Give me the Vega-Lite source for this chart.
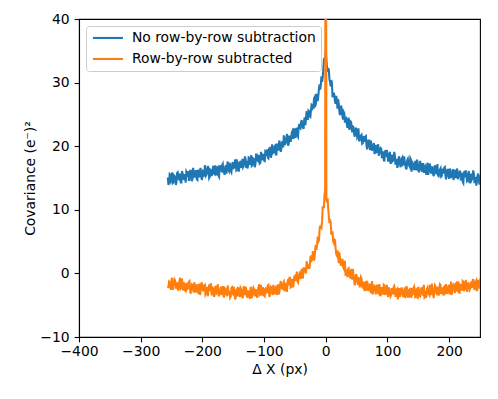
{
"$schema":"https://vega.github.io/schema/vega-lite/v6.json",
"autosize":"none","width":401,"height":318,
"padding":{"left":79,"top":19,"right":18,"bottom":62},
"background":"white",
"data":{"values":[
{"x":-256,"a":15.1,"b":-2.0},{"x":-254,"a":14.3,"b":-1.3},{"x":-252,"a":15.5,"b":-1.9},{"x":-250,"a":14.7,"b":-1.0},{"x":-248,"a":14.2,"b":-2.6},{"x":-246,"a":15.4,"b":-1.6},{"x":-244,"a":15.1,"b":-1.2},{"x":-242,"a":14.4,"b":-2.0},{"x":-240,"a":15.9,"b":-2.4},{"x":-238,"a":14.8,"b":-1.5},
{"x":-236,"a":15.3,"b":-0.7},{"x":-234,"a":14.3,"b":-2.3},{"x":-232,"a":15.7,"b":-2.0},{"x":-230,"a":15.2,"b":-1.4},{"x":-228,"a":14.8,"b":-2.7},{"x":-226,"a":16.0,"b":-1.9},{"x":-224,"a":15.2,"b":-2.4},{"x":-222,"a":14.7,"b":-1.3},{"x":-220,"a":15.8,"b":-2.6},{"x":-218,"a":16.3,"b":-2.1},
{"x":-216,"a":14.9,"b":-1.8},{"x":-214,"a":15.7,"b":-3.0},{"x":-212,"a":15.2,"b":-1.9},{"x":-210,"a":16.1,"b":-2.4},{"x":-208,"a":14.7,"b":-1.7},{"x":-206,"a":15.7,"b":-2.7},{"x":-204,"a":16.1,"b":-3.4},{"x":-202,"a":15.5,"b":-1.9},{"x":-200,"a":15.1,"b":-2.2},{"x":-198,"a":16.0,"b":-2.7},
{"x":-196,"a":17.0,"b":-1.8},{"x":-194,"a":15.4,"b":-3.1},{"x":-192,"a":15.9,"b":-2.5},{"x":-190,"a":16.5,"b":-2.2},{"x":-188,"a":15.2,"b":-2.8},{"x":-186,"a":16.2,"b":-1.7},{"x":-184,"a":15.7,"b":-3.3},{"x":-182,"a":16.9,"b":-2.4},{"x":-180,"a":15.6,"b":-3.1},{"x":-178,"a":16.3,"b":-2.1},
{"x":-176,"a":16.6,"b":-2.8},{"x":-174,"a":15.4,"b":-3.3},{"x":-172,"a":16.6,"b":-2.6},{"x":-170,"a":16.2,"b":-2.1},{"x":-168,"a":17.0,"b":-2.5},{"x":-166,"a":16.0,"b":-3.3},{"x":-164,"a":15.5,"b":-2.3},{"x":-162,"a":17.0,"b":-3.1},{"x":-160,"a":16.8,"b":-3.6},{"x":-158,"a":16.3,"b":-2.5},
{"x":-156,"a":17.4,"b":-2.8},{"x":-154,"a":16.1,"b":-3.6},{"x":-152,"a":16.8,"b":-2.2},{"x":-150,"a":17.2,"b":-3.3},{"x":-148,"a":16.7,"b":-2.8},{"x":-146,"a":17.8,"b":-3.8},{"x":-144,"a":16.3,"b":-2.5},{"x":-142,"a":17.3,"b":-3.0},{"x":-140,"a":16.7,"b":-3.4},{"x":-138,"a":17.7,"b":-2.3},
{"x":-136,"a":17.1,"b":-3.1},{"x":-134,"a":16.7,"b":-3.6},{"x":-132,"a":17.5,"b":-2.6},{"x":-130,"a":18.0,"b":-2.1},{"x":-128,"a":17.7,"b":-3.5},{"x":-126,"a":16.9,"b":-2.8},{"x":-124,"a":18.1,"b":-3.3},{"x":-122,"a":17.4,"b":-2.4},{"x":-120,"a":16.9,"b":-3.9},{"x":-118,"a":18.1,"b":-2.9},
{"x":-116,"a":17.9,"b":-2.5},{"x":-114,"a":17.2,"b":-3.1},{"x":-112,"a":18.7,"b":-3.5},{"x":-110,"a":17.7,"b":-2.6},{"x":-108,"a":18.3,"b":-1.7},{"x":-106,"a":17.4,"b":-3.3},{"x":-104,"a":18.7,"b":-2.8},{"x":-102,"a":18.3,"b":-2.2},{"x":-100,"a":18.0,"b":-3.5},{"x":-98,"a":19.2,"b":-2.6},
{"x":-96,"a":18.5,"b":-3.0},{"x":-94,"a":18.2,"b":-1.9},{"x":-92,"a":19.3,"b":-3.2},{"x":-90,"a":19.9,"b":-2.6},{"x":-88,"a":18.6,"b":-2.2},{"x":-86,"a":19.4,"b":-3.4},{"x":-84,"a":19.1,"b":-2.3},{"x":-82,"a":20.1,"b":-2.6},{"x":-80,"a":18.7,"b":-1.9},{"x":-78,"a":19.8,"b":-2.8},
{"x":-76,"a":20.4,"b":-3.3},{"x":-74,"a":19.8,"b":-1.8},{"x":-72,"a":19.6,"b":-2.0},{"x":-70,"a":20.6,"b":-2.4},{"x":-68,"a":21.7,"b":-1.3},{"x":-66,"a":20.2,"b":-2.5},{"x":-64,"a":20.8,"b":-1.9},{"x":-62,"a":21.5,"b":-1.4},{"x":-60,"a":20.4,"b":-1.9},{"x":-58,"a":21.5,"b":-0.7},
{"x":-56,"a":21.2,"b":-2.1},{"x":-54,"a":22.4,"b":-1.0},{"x":-52,"a":21.3,"b":-1.5},{"x":-50,"a":22.1,"b":-0.4},{"x":-48,"a":22.6,"b":-0.9},{"x":-46,"a":21.7,"b":-1.2},{"x":-44,"a":23.0,"b":-0.3},{"x":-42,"a":22.9,"b":0.3},{"x":-40,"a":23.8,"b":0.1},{"x":-38,"a":23.1,"b":-0.5},
{"x":-36,"a":22.7,"b":0.8},{"x":-34,"a":24.5,"b":0.3},{"x":-32,"a":24.5,"b":0.0},{"x":-30,"a":24.3,"b":1.4},{"x":-28,"a":25.6,"b":1.4},{"x":-26,"a":24.7,"b":1.1},{"x":-24,"a":25.6,"b":2.8},{"x":-22,"a":26.4,"b":2.1},{"x":-20,"a":26.2,"b":3.0},{"x":-18,"a":27.7,"b":2.6},
{"x":-16,"a":26.6,"b":4.5},{"x":-14,"a":28.1,"b":4.6},{"x":-12,"a":28.0,"b":5.0},{"x":-10,"a":29.7,"b":7.0},{"x":-8,"a":29.7,"b":7.4},{"x":-6,"a":30.1,"b":8.1},{"x":-4,"a":32.0,"b":10.4},{"x":-2,"a":33.9,"b":12.4},
{"x":0,"a":35.0,"b":100},
{"x":2,"a":32.4,"b":11.2},{"x":4,"a":32.3,"b":10.2},{"x":6,"a":30.5,"b":7.9},{"x":8,"a":29.4,"b":8.0},{"x":10,"a":29.9,"b":6.3},{"x":12,"a":28.1,"b":5.0},{"x":14,"a":27.9,"b":5.3},{"x":16,"a":26.7,"b":3.9},{"x":18,"a":27.2,"b":2.8},{"x":20,"a":27.4,"b":3.2},
{"x":22,"a":25.5,"b":3.3},{"x":24,"a":25.4,"b":1.5},{"x":26,"a":25.6,"b":1.9},{"x":28,"a":24.2,"b":1.0},{"x":30,"a":25.2,"b":1.6},{"x":32,"a":24.3,"b":-0.2},{"x":34,"a":23.6,"b":0.6},{"x":36,"a":23.9,"b":0.7},{"x":38,"a":22.6,"b":-0.2},{"x":40,"a":23.9,"b":-0.8},
{"x":42,"a":22.7,"b":-0.1},{"x":44,"a":23.1,"b":0.7},{"x":46,"a":21.9,"b":-1.1},{"x":48,"a":22.3,"b":-0.8},{"x":50,"a":22.5,"b":-0.4},{"x":52,"a":21.6,"b":-1.8},{"x":54,"a":20.9,"b":-1.1},{"x":56,"a":21.2,"b":-1.7},{"x":58,"a":21.8,"b":-0.8},{"x":60,"a":20.5,"b":-2.2},
{"x":62,"a":21.1,"b":-1.7},{"x":64,"a":21.5,"b":-1.5},{"x":66,"a":20.2,"b":-2.7},{"x":68,"a":20.4,"b":-1.7},{"x":70,"a":20.9,"b":-2.2},{"x":72,"a":19.4,"b":-1.6},{"x":74,"a":20.3,"b":-2.7},{"x":76,"a":19.7,"b":-3.3},{"x":78,"a":20.5,"b":-1.9},{"x":80,"a":19.1,"b":-2.3},
{"x":82,"a":19.5,"b":-2.8},{"x":84,"a":19.8,"b":-1.9},{"x":86,"a":18.5,"b":-3.2},{"x":88,"a":19.2,"b":-2.6},{"x":90,"a":19.6,"b":-2.3},{"x":92,"a":18.5,"b":-2.9},{"x":94,"a":17.9,"b":-1.8},{"x":96,"a":19.1,"b":-3.4},{"x":98,"a":18.3,"b":-2.5},{"x":100,"a":18.7,"b":-3.2},
{"x":102,"a":17.7,"b":-2.2},{"x":104,"a":19.1,"b":-2.9},{"x":106,"a":18.1,"b":-3.4},{"x":108,"a":17.6,"b":-2.7},{"x":110,"a":18.2,"b":-2.2},{"x":112,"a":18.5,"b":-2.6},{"x":114,"a":17.5,"b":-3.4},{"x":116,"a":16.6,"b":-2.4},{"x":118,"a":18.1,"b":-3.2},{"x":120,"a":17.6,"b":-3.7},
{"x":122,"a":17.0,"b":-2.6},{"x":124,"a":18.2,"b":-2.9},{"x":126,"a":17.2,"b":-3.6},{"x":128,"a":17.7,"b":-2.2},{"x":130,"a":16.5,"b":-3.3},{"x":132,"a":17.8,"b":-2.8},{"x":134,"a":17.1,"b":-3.8},{"x":136,"a":16.8,"b":-2.5},{"x":138,"a":17.9,"b":-3.0},{"x":140,"a":16.8,"b":-3.4},
{"x":142,"a":17.1,"b":-2.3},{"x":144,"a":16.4,"b":-3.1},{"x":146,"a":17.3,"b":-3.6},{"x":148,"a":17.9,"b":-2.6},{"x":150,"a":16.3,"b":-2.1},{"x":152,"a":16.6,"b":-3.5},{"x":154,"a":17.0,"b":-2.8},{"x":156,"a":16.0,"b":-3.2},{"x":158,"a":17.2,"b":-2.3},{"x":160,"a":16.6,"b":-3.8},
{"x":162,"a":16.1,"b":-2.8},{"x":164,"a":16.7,"b":-2.4},{"x":166,"a":15.5,"b":-3.0},{"x":168,"a":17.1,"b":-3.4},{"x":170,"a":16.0,"b":-2.5},{"x":172,"a":16.7,"b":-1.6},{"x":174,"a":15.6,"b":-3.2},{"x":176,"a":16.3,"b":-2.7},{"x":178,"a":16.7,"b":-2.1},{"x":180,"a":15.9,"b":-3.4},
{"x":182,"a":15.4,"b":-2.5},{"x":184,"a":15.7,"b":-2.9},{"x":186,"a":16.5,"b":-1.8},{"x":188,"a":15.3,"b":-3.1},{"x":190,"a":16.1,"b":-2.5},{"x":192,"a":16.6,"b":-2.1},{"x":194,"a":15.4,"b":-3.3},{"x":196,"a":15.7,"b":-2.2},{"x":198,"a":16.3,"b":-2.5},{"x":200,"a":14.9,"b":-1.8},
{"x":202,"a":16.0,"b":-2.8},{"x":204,"a":15.4,"b":-3.4},{"x":206,"a":16.4,"b":-1.8},{"x":208,"a":15.1,"b":-2.1},{"x":210,"a":15.5,"b":-2.6},{"x":212,"a":15.9,"b":-1.5},{"x":214,"a":14.8,"b":-2.8},{"x":216,"a":15.5,"b":-2.2},{"x":218,"a":16.0,"b":-1.8},{"x":220,"a":15.0,"b":-2.3},
{"x":222,"a":14.4,"b":-1.2},{"x":224,"a":15.8,"b":-2.8},{"x":226,"a":15.1,"b":-1.8},{"x":228,"a":15.5,"b":-2.4},{"x":230,"a":14.6,"b":-1.4},{"x":232,"a":16.1,"b":-2.1},{"x":234,"a":15.0,"b":-2.4},{"x":236,"a":14.6,"b":-1.7},{"x":238,"a":15.3,"b":-1.2},{"x":240,"a":15.7,"b":-1.5},
{"x":242,"a":14.7,"b":-2.3},{"x":244,"a":13.8,"b":-1.1},{"x":246,"a":15.4,"b":-1.9},{"x":248,"a":14.9,"b":-2.4},{"x":250,"a":14.3,"b":-1.2},{"x":252,"a":15.6,"b":-1.5},{"x":254,"a":14.6,"b":-2.1},{"x":256,"a":15.1,"b":-0.7},
{"x":-255,"a":13.9,"b":-2.3},{"x":-253,"a":15.6,"b":-1.4},{"x":-251,"a":14.5,"b":-2.6},{"x":-249,"a":15.9,"b":-0.7},{"x":-247,"a":14.3,"b":-2.0},{"x":-245,"a":15.3,"b":-1.0},{"x":-243,"a":13.9,"b":-2.4},{"x":-241,"a":15.8,"b":-1.4},{"x":-239,"a":14.9,"b":-2.7},{"x":-237,"a":15.7,"b":-1.1},
{"x":-235,"a":14.3,"b":-2.4},{"x":-233,"a":16.1,"b":-0.8},{"x":-231,"a":14.7,"b":-2.7},{"x":-229,"a":15.6,"b":-1.7},{"x":-227,"a":14.3,"b":-2.8},{"x":-225,"a":15.8,"b":-1.5},{"x":-223,"a":16.1,"b":-2.3},{"x":-221,"a":14.7,"b":-1.2},{"x":-219,"a":15.6,"b":-3.2},{"x":-217,"a":14.5,"b":-1.7},
{"x":-215,"a":16.6,"b":-2.6},{"x":-213,"a":15.2,"b":-1.4},{"x":-211,"a":16.1,"b":-3.0},{"x":-209,"a":14.8,"b":-2.1},{"x":-207,"a":16.3,"b":-3.2},{"x":-205,"a":15.1,"b":-1.6},{"x":-203,"a":16.6,"b":-2.9},{"x":-201,"a":14.7,"b":-1.4},{"x":-199,"a":16.1,"b":-2.7},{"x":-197,"a":15.2,"b":-1.9},
{"x":-195,"a":16.6,"b":-3.3},{"x":-193,"a":15.6,"b":-2.1},{"x":-191,"a":16.9,"b":-3.6},{"x":-189,"a":15.0,"b":-1.8},{"x":-187,"a":16.3,"b":-1.7},{"x":-185,"a":15.3,"b":-3.3},{"x":-183,"a":16.6,"b":-2.3},{"x":-181,"a":15.7,"b":-3.7},{"x":-179,"a":17.0,"b":-2.1},{"x":-177,"a":15.4,"b":-3.0},
{"x":-175,"a":16.7,"b":-1.7},{"x":-173,"a":15.2,"b":-3.6},{"x":-171,"a":17.0,"b":-2.6},{"x":-169,"a":16.1,"b":-3.4},{"x":-167,"a":17.2,"b":-2.0},{"x":-165,"a":15.9,"b":-3.8},{"x":-163,"a":16.7,"b":-2.4},{"x":-161,"a":15.7,"b":-3.3},{"x":-159,"a":17.6,"b":-1.9},{"x":-157,"a":16.1,"b":-3.4},
{"x":-155,"a":17.1,"b":-3.8},{"x":-153,"a":15.9,"b":-2.3},{"x":-151,"a":17.5,"b":-3.2},{"x":-149,"a":16.6,"b":-2.1},{"x":-147,"a":17.8,"b":-4.1},{"x":-145,"a":16.2,"b":-2.7},{"x":-143,"a":17.5,"b":-3.6},{"x":-141,"a":16.0,"b":-2.2},{"x":-139,"a":17.4,"b":-3.7},{"x":-137,"a":16.6,"b":-2.5},
{"x":-135,"a":18.0,"b":-3.9},{"x":-133,"a":16.9,"b":-2.0},{"x":-131,"a":18.4,"b":-3.4},{"x":-129,"a":16.6,"b":-2.4},{"x":-127,"a":16.5,"b":-3.8},{"x":-125,"a":18.2,"b":-2.8},{"x":-123,"a":17.1,"b":-4.0},{"x":-121,"a":18.6,"b":-2.1},{"x":-119,"a":17.0,"b":-3.3},{"x":-117,"a":18.0,"b":-2.3},
{"x":-115,"a":16.7,"b":-3.6},{"x":-113,"a":18.7,"b":-2.5},{"x":-111,"a":17.8,"b":-3.8},{"x":-109,"a":18.6,"b":-2.1},{"x":-107,"a":17.3,"b":-3.4},{"x":-105,"a":19.1,"b":-1.8},{"x":-103,"a":17.8,"b":-3.5},{"x":-101,"a":18.8,"b":-2.5},{"x":-99,"a":17.5,"b":-3.6},{"x":-97,"a":19.1,"b":-2.2},
{"x":-95,"a":19.5,"b":-2.9},{"x":-93,"a":18.1,"b":-1.8},{"x":-91,"a":19.1,"b":-3.7},{"x":-89,"a":18.2,"b":-2.1},{"x":-87,"a":20.3,"b":-3.0},{"x":-85,"a":19.0,"b":-1.8},{"x":-83,"a":20.0,"b":-3.3},{"x":-81,"a":18.7,"b":-2.3},{"x":-79,"a":20.4,"b":-3.4},{"x":-77,"a":19.3,"b":-1.7},
{"x":-75,"a":20.9,"b":-2.8},{"x":-73,"a":19.1,"b":-1.2},{"x":-71,"a":20.6,"b":-2.4},{"x":-69,"a":19.8,"b":-1.5},{"x":-67,"a":21.3,"b":-2.8},{"x":-65,"a":20.5,"b":-1.5},{"x":-63,"a":21.9,"b":-2.9},{"x":-61,"a":20.1,"b":-0.9},{"x":-59,"a":21.5,"b":-0.7},{"x":-57,"a":20.7,"b":-2.2},
{"x":-55,"a":22.2,"b":-1.0},{"x":-53,"a":21.3,"b":-2.2},{"x":-51,"a":22.8,"b":-0.5},{"x":-49,"a":21.3,"b":-1.2},{"x":-47,"a":22.9,"b":0.3},{"x":-45,"a":21.5,"b":-1.4},{"x":-43,"a":23.5,"b":-0.2},{"x":-41,"a":22.8,"b":-0.9},{"x":-39,"a":24.1,"b":0.7},{"x":-37,"a":23.0,"b":-0.8},
{"x":-35,"a":24.1,"b":0.8},{"x":-33,"a":23.3,"b":0.2},{"x":-31,"a":25.5,"b":1.9},{"x":-29,"a":24.3,"b":0.7},{"x":-27,"a":25.5,"b":0.7},{"x":-25,"a":24.6,"b":2.5},{"x":-23,"a":26.5,"b":2.0},{"x":-21,"a":26.0,"b":3.5},{"x":-19,"a":27.5,"b":2.0},{"x":-17,"a":26.4,"b":4.0},
{"x":-15,"a":28.1,"b":3.7},{"x":-13,"a":27.1,"b":5.8},{"x":-11,"a":29.1,"b":5.2},{"x":-9,"a":28.9,"b":7.4},{"x":-7,"a":31.0,"b":7.2},{"x":-5,"a":30.8,"b":10.4},{"x":-3,"a":33.6,"b":10.4},{"x":-1,"a":33.3,"b":13.1},
{"x":1,"a":33.6,"b":11.6},{"x":3,"a":31.7,"b":11.8},{"x":5,"a":31.9,"b":8.9},{"x":7,"a":30.0,"b":8.5},{"x":9,"a":30.4,"b":6.1},{"x":11,"a":27.7,"b":6.6},{"x":13,"a":28.4,"b":4.8},{"x":15,"a":27.0,"b":5.2},{"x":17,"a":27.9,"b":3.0},{"x":19,"a":25.9,"b":3.6},
{"x":21,"a":26.7,"b":1.6},{"x":23,"a":24.9,"b":2.5},{"x":25,"a":26.4,"b":1.2},{"x":27,"a":24.7,"b":2.3},{"x":29,"a":25.4,"b":0.8},{"x":31,"a":23.7,"b":2.0},{"x":33,"a":24.4,"b":-0.2},{"x":35,"a":22.9,"b":-0.6},{"x":37,"a":24.5,"b":0.8},{"x":39,"a":23.0,"b":-0.5},
{"x":41,"a":23.8,"b":0.7},{"x":43,"a":22.2,"b":-1.0},{"x":45,"a":23.0,"b":-0.3},{"x":47,"a":21.5,"b":-1.9},{"x":49,"a":22.9,"b":-0.1},{"x":51,"a":21.4,"b":-1.3},{"x":53,"a":22.8,"b":-0.6},{"x":55,"a":20.9,"b":-2.2},{"x":57,"a":21.7,"b":-0.6},{"x":59,"a":20.4,"b":-2.1},
{"x":61,"a":21.6,"b":-1.3},{"x":63,"a":20.7,"b":-2.8},{"x":65,"a":21.6,"b":-1.4},{"x":67,"a":19.5,"b":-1.2},{"x":69,"a":20.9,"b":-2.8},{"x":71,"a":19.8,"b":-1.9},{"x":73,"a":20.9,"b":-3.1},{"x":75,"a":19.3,"b":-1.2},{"x":77,"a":20.0,"b":-2.7},{"x":79,"a":18.8,"b":-1.9},
{"x":81,"a":20.2,"b":-3.3},{"x":83,"a":18.9,"b":-1.9},{"x":85,"a":20.3,"b":-3.1},{"x":87,"a":18.9,"b":-1.7},{"x":89,"a":19.7,"b":-3.6},{"x":91,"a":18.1,"b":-2.3},{"x":93,"a":19.2,"b":-3.3},{"x":95,"a":17.6,"b":-1.9},{"x":97,"a":19.4,"b":-3.0},{"x":99,"a":19.4,"b":-1.8},
{"x":101,"a":17.7,"b":-3.7},{"x":103,"a":18.7,"b":-2.5},{"x":105,"a":17.2,"b":-3.6},{"x":107,"a":18.7,"b":-2.3},{"x":109,"a":17.7,"b":-3.3},{"x":111,"a":19.1,"b":-2.0},{"x":113,"a":17.1,"b":-3.7},{"x":115,"a":18.0,"b":-2.5},{"x":117,"a":17.1,"b":-4.1},{"x":119,"a":18.4,"b":-2.3},
{"x":121,"a":16.7,"b":-3.3},{"x":123,"a":18.0,"b":-2.2},{"x":125,"a":17.1,"b":-3.6},{"x":127,"a":18.4,"b":-2.8},{"x":129,"a":16.9,"b":-3.9},{"x":131,"a":16.5,"b":-2.0},{"x":133,"a":18.0,"b":-3.5},{"x":135,"a":17.0,"b":-2.6},{"x":137,"a":18.1,"b":-3.8},{"x":139,"a":16.0,"b":-2.3},
{"x":141,"a":17.3,"b":-3.2},{"x":143,"a":16.4,"b":-2.1},{"x":145,"a":17.7,"b":-3.7},{"x":147,"a":16.2,"b":-2.5},{"x":149,"a":17.3,"b":-4.0},{"x":151,"a":15.9,"b":-2.7},{"x":153,"a":17.7,"b":-3.6},{"x":155,"a":16.3,"b":-2.2},{"x":157,"a":17.2,"b":-3.3},{"x":159,"a":15.8,"b":-1.8},
{"x":161,"a":16.8,"b":-3.7},{"x":163,"a":15.5,"b":-3.8},{"x":165,"a":17.4,"b":-2.2},{"x":167,"a":16.1,"b":-3.2},{"x":169,"a":17.1,"b":-1.8},{"x":171,"a":15.7,"b":-3.4},{"x":173,"a":16.7,"b":-2.5},{"x":175,"a":15.3,"b":-3.9},{"x":177,"a":17.0,"b":-1.9},{"x":179,"a":15.6,"b":-2.9},
{"x":181,"a":17.2,"b":-2.1},{"x":183,"a":15.3,"b":-3.5},{"x":185,"a":16.3,"b":-1.7},{"x":187,"a":15.2,"b":-3.1},{"x":189,"a":16.5,"b":-2.2},{"x":191,"a":15.7,"b":-3.5},{"x":193,"a":16.7,"b":-2.0},{"x":195,"a":14.8,"b":-1.7},{"x":197,"a":16.3,"b":-3.2},{"x":199,"a":15.3,"b":-2.2},
{"x":201,"a":16.5,"b":-3.3},{"x":203,"a":15.0,"b":-1.3},{"x":205,"a":15.8,"b":-2.6},{"x":207,"a":14.7,"b":-1.7},{"x":209,"a":16.3,"b":-3.1},{"x":211,"a":15.0,"b":-1.6},{"x":213,"a":16.5,"b":-2.7},{"x":215,"a":15.2,"b":-1.3},{"x":217,"a":16.0,"b":-3.2},{"x":219,"a":14.6,"b":-1.8},
{"x":221,"a":15.8,"b":-2.7},{"x":223,"a":14.2,"b":-1.3},{"x":225,"a":16.1,"b":-2.3},{"x":227,"a":16.2,"b":-1.0},{"x":229,"a":14.5,"b":-2.9},{"x":231,"a":15.6,"b":-1.7},{"x":233,"a":14.2,"b":-2.6},{"x":235,"a":15.7,"b":-1.3},{"x":237,"a":14.8,"b":-2.3},{"x":239,"a":16.2,"b":-0.9},
{"x":241,"a":14.2,"b":-2.6},{"x":243,"a":15.2,"b":-1.3},{"x":245,"a":14.4,"b":-2.8},{"x":247,"a":15.7,"b":-1.0},{"x":249,"a":14.0,"b":-1.9},{"x":251,"a":15.4,"b":-0.8},{"x":253,"a":14.5,"b":-2.2},{"x":255,"a":15.8,"b":-1.3}
]},
"transform":[{"fold":["a","b"],"as":["s","v"]}],
"mark":{"type":"line","clip":true,"strokeWidth":2.08},
"encoding":{
"x":{"field":"x","type":"quantitative","scale":{"domain":[-400,250],"nice":false,"zero":false},"axis":{"values":[-400,-300,-200,-100,0,100,200],"title":"Δ X (px)","titlePadding":4,"labelPadding":3,"labelFlush":false}},
"y":{"field":"v","type":"quantitative","scale":{"domain":[-10,40],"nice":false,"zero":false},"axis":{"values":[-10,0,10,20,30,40],"title":"Covariance (e⁻)²","titlePadding":2,"labelPadding":5,"labelFlush":false}},
"color":{"field":"s","type":"nominal","scale":{"domain":["a","b"],"range":["#1f77b4","#ff7f0e"]},
"legend":{"title":null,"orient":"top-left","offset":7,"padding":5,"labelExpr":"datum.label == 'a' ? 'No row-by-row subtraction' : 'Row-by-row subtracted'","labelLimit":0,"symbolType":"M-1,0L5,0","symbolSize":100,"symbolStrokeWidth":2.08,"labelOffset":27,"rowPadding":6,"labelFontSize":13.9,"labelFont":"DejaVu Sans","labelColor":"black","strokeColor":"#cccccc","fillColor":"rgba(255,255,255,0.8)","cornerRadius":3}}
},
"config":{
"font":"DejaVu Sans",
"view":{"stroke":"black","strokeWidth":1.1},
"axis":{"grid":false,"domainColor":"black","domainWidth":1.1,"tickColor":"black","tickWidth":1.1,"tickSize":4.9,"labelFontSize":13.9,"labelColor":"black","titleFontSize":13.9,"titleFontWeight":"normal","titleColor":"black","labelFont":"DejaVu Sans","titleFont":"DejaVu Sans"}
}
}
